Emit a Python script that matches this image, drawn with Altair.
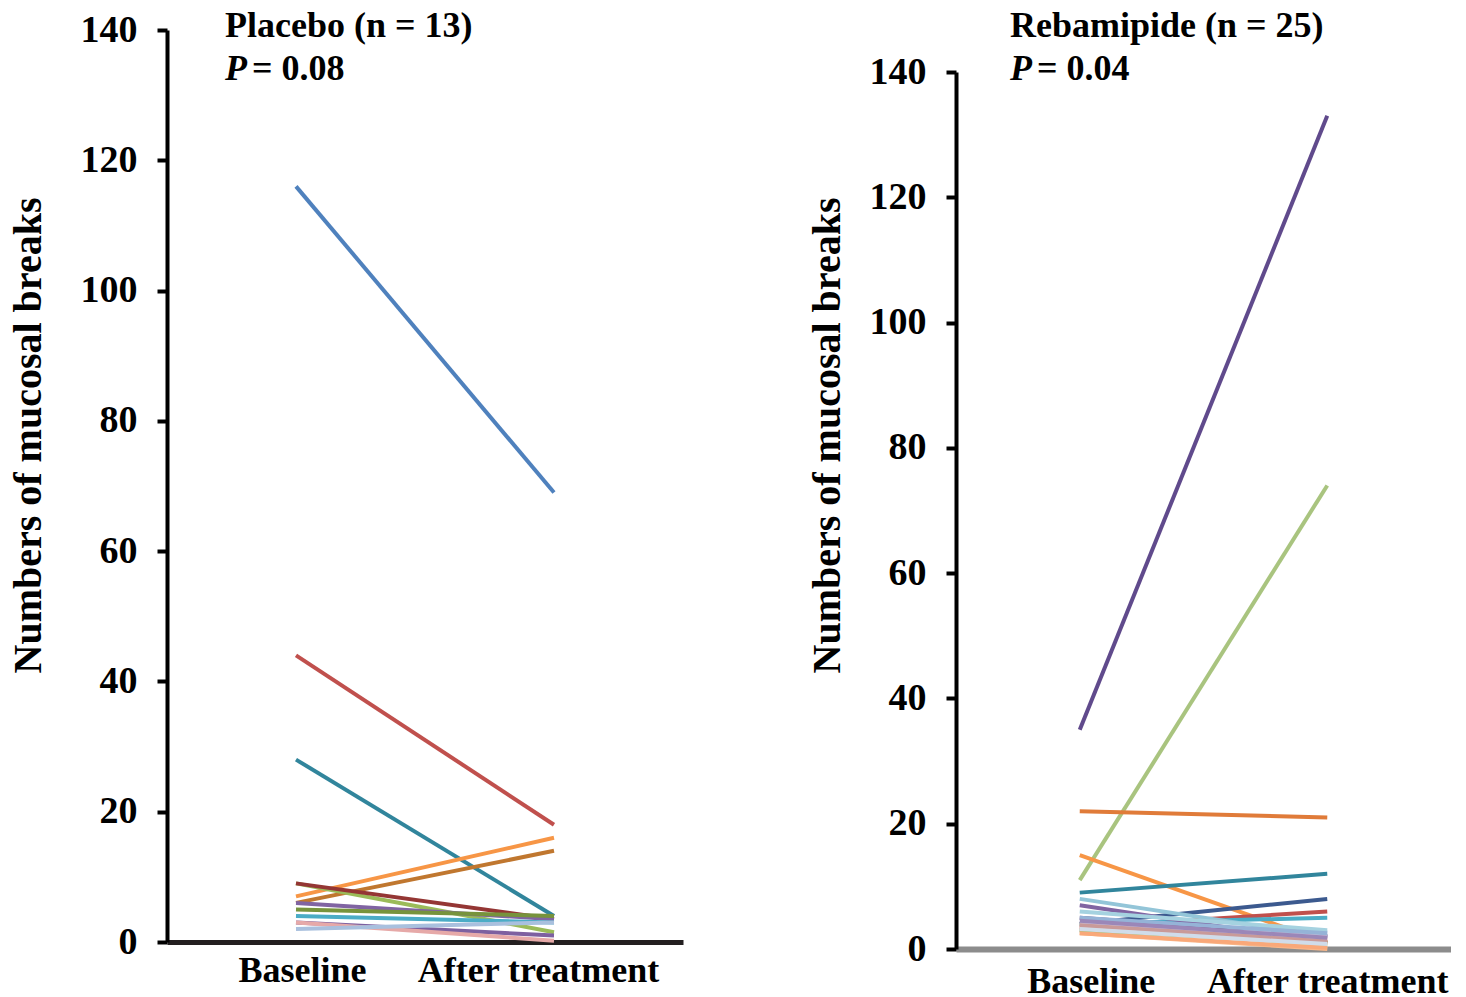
import altair as alt
import pandas as pd

# ---------------- data ----------------
stages = ["Baseline", "After treatment"]

placebo_baseline = [116, 44, 28, 7, 6, 9, 9, 6, 5, 4, 3, 3, 2]
placebo_after = [69, 18, 4, 16, 14, 1.5, 3.5, 3.5, 4, 3, 1, 0.2, 3]
placebo_colors = ["#4f81bd", "#c0504d", "#31859c", "#f79646", "#c0772f",
                  "#9bbb59", "#943634", "#8064a2", "#77933c", "#4bacc6",
                  "#7d60a0", "#e6a9a8", "#a9c0de"]

rebamipide_baseline = [35, 11, 22, 15, 9, 4, 3.5, 4, 8, 7, 5, 4, 3, 3, 2.5,
                       3, 4, 3.5, 4, 6, 2.5, 5, 3.8, 4.5, 3.2]
rebamipide_after = [133, 74, 21, 1, 12, 8, 6, 5, 2, 1, 2, 1, 2, 2.7, 0,
                    1, 0.5, 1.5, 2, 3, 0.2, 2.5, 1.2, 1.8, 0.8]
rebamipide_colors = ["#604a8c", "#a9c47f", "#e07b39", "#f79646", "#31859c",
                     "#3c5a8f", "#c0504d", "#4bacc6", "#93c5d8", "#8064a2",
                     "#604a7b", "#d99694", "#b3a2c7", "#b9cde5", "#fab88a",
                     "#9bbb59", "#c3d69b", "#e6b9b8", "#ccc1da", "#a5d2e0",
                     "#f9a879", "#95b3d7", "#c99a99", "#9b87b8", "#d0dcea"]

FONT = "Liberation Serif"


def long_frame(prefix, base, after, colors):
    rows = []
    for i, (b, a, c) in enumerate(zip(base, after, colors)):
        rows.append({"id": f"{prefix}{i:02d}", "stage": stages[0], "value": b, "col": c})
        rows.append({"id": f"{prefix}{i:02d}", "stage": stages[1], "value": a, "col": c})
    return pd.DataFrame(rows)


def panel(prefix, base, after, colors, width, height, xdomain_color, xdomain_width,
          xlabel_pad, off_base, off_after, title_pad, title_y, title1, pval,
          t_dx, t_dy1, t_dy2, eq_dx):
    df = long_frame(prefix, base, after, colors)
    lines = alt.Chart(df).mark_line(strokeWidth=4).encode(
        x=alt.X("stage:N", sort=stages,
                scale=alt.Scale(type="point", padding=0.5, domain=stages),
                axis=alt.Axis(title=None, labelAngle=0, ticks=False,
                              labelFont=FONT, labelFontSize=36,
                              labelFontWeight="bold", labelColor="black",
                              labelLimit=600,
                              labelOffset={"condition": {"test": "datum.label == 'Baseline'",
                                                         "value": off_base},
                                           "value": off_after},
                              domainColor=xdomain_color,
                              domainWidth=xdomain_width,
                              labelPadding=xlabel_pad)),
        y=alt.Y("value:Q",
                scale=alt.Scale(domain=[0, 140], nice=False),
                axis=alt.Axis(title="Numbers of mucosal breaks",
                              values=[0, 20, 40, 60, 80, 100, 120, 140],
                              grid=False, tickSize=10, tickWidth=4,
                              tickColor="black", domainColor="black",
                              domainWidth=4, labelFont=FONT,
                              labelFontSize=38, labelFontWeight="bold",
                              labelColor="black", labelPadding=20,
                              titleFont=FONT, titleFontSize=40,
                              titleFontWeight="bold", titleColor="black",
                              titlePadding=title_pad, titleY=title_y)),
        color=alt.Color("col:N", scale=None, legend=None),
        detail="id:N",
    )
    label_df = pd.DataFrame({"t": [title1]})
    t1 = alt.Chart(label_df).mark_text(
        font=FONT, fontSize=36, fontWeight="bold", align="left",
        baseline="middle", color="black"
    ).encode(x=alt.value(t_dx), y=alt.value(t_dy1), text="t:N")
    p_df = pd.DataFrame({"t": ["P"]})
    tp = alt.Chart(p_df).mark_text(
        font=FONT, fontSize=36, fontWeight="bold", fontStyle="italic",
        align="left", baseline="middle", color="black"
    ).encode(x=alt.value(t_dx), y=alt.value(t_dy2), text="t:N")
    v_df = pd.DataFrame({"t": [f"= {pval}"]})
    tv = alt.Chart(v_df).mark_text(
        font=FONT, fontSize=36, fontWeight="bold", align="left",
        baseline="middle", color="black"
    ).encode(x=alt.value(t_dx + eq_dx), y=alt.value(t_dy2), text="t:N")
    return alt.layer(lines, t1, tp, tv).properties(width=width, height=height)


left = panel("p", placebo_baseline, placebo_after, placebo_colors, 516, 912,
             "#231f20", 5, 11, 6, -16, 32, 405, "Placebo (n = 13)", "0.08",
             58, -4, 39, 27)
right = panel("r", rebamipide_baseline, rebamipide_after, rebamipide_colors, 495, 877,
              "#8c8c8c", 6, 15, 11, 0, 22, 363, "Rebamipide (n = 25)", "0.04",
              54, -46, -3, 27)

spacer = alt.Chart(pd.DataFrame({"a": [0]})).mark_point(opacity=0).encode(
    x=alt.value(0), y=alt.value(0)
).properties(width=495, height=42)

right_col = alt.vconcat(spacer, right, spacing=0, bounds="flush")

chart = alt.hconcat(left, right_col, spacing=273, bounds="flush").properties(
    padding=0, background="white"
).configure_view(stroke=None)

chart.save("out.html", embed_options={"renderer": "svg", "actions": False})
